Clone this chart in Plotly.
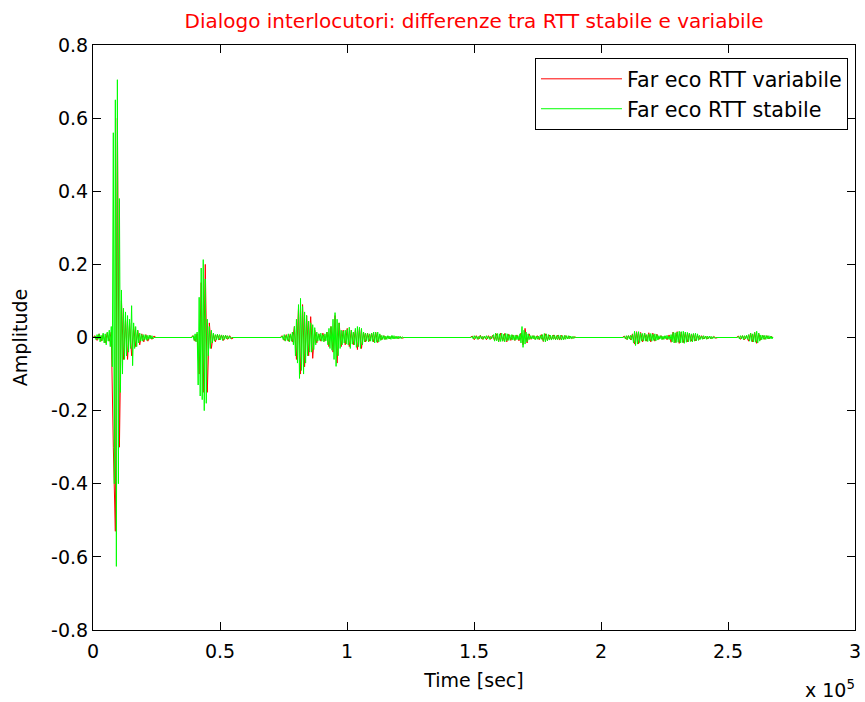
import plotly.graph_objects as go

# ---------------- data (sample index on x, amplitude on y) ----------------
SAMPLE_END = 266700
burst_starts = [800, 39400, 74500, 149300, 209200, 254100]
green_step = 400
red_step = 800

green_b1 = [0.004, -0.006, 0.008, -0.005, 0.01, -0.012, 0.006, -0.009, 0.012, -0.015,
            0.01, -0.02, 0.015, -0.01, 0.02, -0.025, 0.03, -0.08, 0.56, -0.4,
            0.65, -0.626, 0.705, -0.4, 0.38, -0.15, 0.13, -0.1, 0.08, -0.06,
            0.07, -0.05, 0.06, -0.04, 0.05, -0.03, 0.087, -0.077, 0.04, -0.03,
            0.03, -0.025, 0.02, -0.015, 0.012, -0.01, 0.008, -0.01, 0.008, -0.006,
            0.007, -0.008, 0.006, -0.005, 0.006, -0.004, 0.005, -0.004]
green_b2 = [0.005, -0.008, 0.01, -0.012, 0.015, -0.13, 0.11, -0.16, 0.19, -0.17,
            0.213, -0.2, 0.16, -0.18, 0.05, -0.05, 0.03, -0.03, 0.02, -0.015,
            0.012, -0.01, 0.008, -0.006, 0.009, -0.007, 0.008, -0.006, 0.007, -0.008,
            0.006, -0.005, 0.006, -0.004, 0.005, -0.004, 0.004, -0.003]
green_b3 = [0.004, -0.006, 0.008, -0.01, 0.006, -0.008, 0.01, -0.012, 0.009, -0.01,
            0.015, -0.02, 0.03, -0.05, 0.05, -0.07, 0.09, -0.112, 0.107, -0.09,
            0.085, -0.1, 0.07, -0.07, 0.06, -0.05, 0.045, -0.04, 0.04, -0.04,
            0.035, -0.033, 0.027, -0.02, 0.015, -0.01, 0.01, -0.008, 0.012, -0.01,
            0.008, -0.012, 0.01, -0.009, 0.015, -0.02, 0.025, -0.03, 0.03, -0.035,
            0.05, -0.06, 0.068, -0.079, 0.05, -0.05, 0.04, -0.03, 0.02, -0.02,
            0.018, -0.015, 0.02, -0.018, 0.022, -0.02, 0.028, -0.03, 0.02, -0.018,
            0.015, -0.02, 0.025, -0.027, 0.03, -0.025, 0.028, -0.03, 0.025, -0.02,
            0.015, -0.012, 0.012, -0.01, 0.011, -0.012, 0.01, -0.01, 0.012, -0.011,
            0.015, -0.015, 0.014, -0.013, 0.015, -0.012, 0.01, -0.008, 0.006, -0.005,
            0.005, -0.006, 0.004, -0.005, 0.005, -0.004, 0.004, -0.005, 0.006, -0.004,
            0.005, -0.004, 0.003, -0.004, 0.004, -0.003, 0.003, -0.003, 0.002]
green_b4 = [0.003, -0.004, 0.005, -0.003, 0.004, -0.005, 0.003, -0.004, 0.005, -0.004,
            0.003, -0.005, 0.004, -0.003, 0.005, -0.004, 0.004, -0.005, 0.003, -0.004,
            0.005, 0.008, -0.01, 0.012, -0.009, 0.011, -0.012, 0.01, -0.011, 0.012,
            -0.01, 0.009, -0.012, 0.011, -0.009, 0.01, -0.008, 0.007, -0.006, 0.008,
            -0.007, 0.006, -0.008, 0.007, -0.006, 0.005, -0.007, 0.01, -0.015, 0.03,
            -0.027, 0.02, -0.018, 0.015, -0.012, 0.01, -0.006, 0.005, -0.004, 0.005,
            -0.004, 0.005, -0.006, 0.004, -0.005, 0.004, -0.005, 0.006, -0.005, 0.008,
            -0.01, 0.011, -0.012, 0.01, -0.009, 0.008, -0.007, 0.006, -0.007, 0.006,
            -0.005, 0.007, -0.006, 0.005, -0.006, 0.007, -0.005, 0.006, -0.007, 0.005,
            -0.006, 0.006, -0.005, 0.005, -0.004, 0.005, -0.004, 0.004, -0.003, 0.003,
            -0.003, 0.002]
green_b5 = [0.003, -0.004, 0.005, -0.006, 0.005, -0.004, 0.006, -0.007, 0.008, -0.015,
            0.017, -0.022, 0.015, -0.018, 0.016, -0.014, 0.012, -0.01, 0.011, -0.009,
            0.012, -0.01, 0.008, -0.011, 0.01, -0.009, 0.011, -0.01, 0.009, -0.008,
            0.01, -0.009, 0.008, -0.007, 0.005, -0.004, 0.005, -0.006, 0.004, -0.005,
            0.005, -0.004, 0.006, -0.005, 0.004, -0.006, 0.008, -0.012, 0.014, -0.015,
            0.013, -0.014, 0.015, -0.013, 0.017, -0.015, 0.016, -0.014, 0.017, -0.016,
            0.015, -0.013, 0.014, -0.012, 0.012, -0.011, 0.01, -0.012, 0.011, -0.01,
            0.012, -0.009, 0.01, -0.008, 0.006, -0.005, 0.004, -0.005, 0.005, -0.004,
            0.004, -0.005, 0.004, -0.003, 0.004, -0.004, 0.003, -0.003, 0.002, -0.002]
green_b6 = [0.003, -0.004, 0.005, -0.004, 0.005, -0.006, 0.005, -0.004, 0.006, -0.005,
            0.008, -0.01, 0.012, -0.011, 0.01, -0.012, 0.014, -0.013, 0.017, -0.015,
            0.012, -0.01, 0.007, -0.006, 0.006, -0.005, 0.006, -0.005, 0.005, -0.004,
            0.005, -0.004, 0.004, -0.004]

red_b1 = [0.005, -0.008, 0.01, -0.01, 0.008, -0.015, 0.012, -0.01, 0.015, -0.3,
          -0.53, 0.6, -0.3, 0.1, -0.06, 0.05, -0.06, 0.04, -0.05, 0.03,
          -0.025, 0.02, -0.02, 0.01, -0.012, 0.008, -0.01, 0.006, -0.005, 0.004]
red_b2 = [0.005, -0.01, 0.01, -0.1, 0.15, -0.15, 0.2, -0.15, 0.04, -0.03,
          0.01, -0.012, 0.008, -0.006, 0.007, -0.008, 0.006, -0.005, 0.005, -0.004]
red_b3 = [0.005, -0.008, 0.008, -0.01, 0.01, -0.012, 0.03, -0.06, 0.08, -0.1,
          0.09, -0.08, 0.06, -0.05, 0.057, -0.057, 0.02, -0.015, 0.01, -0.01,
          0.012, -0.01, 0.015, -0.025, 0.03, -0.04, 0.06, -0.07, 0.04, -0.025,
          0.02, -0.02, 0.025, -0.025, 0.02, -0.02, 0.02, -0.033, 0.025, -0.03,
          0.015, -0.012, 0.012, -0.01, 0.012, -0.012, 0.014, -0.014, 0.008, -0.006,
          0.005, -0.005, 0.004, -0.004, 0.004, -0.003, 0.003, -0.003, 0.002, -0.002]
red_b4 = [0.004, -0.006, 0.005, -0.005, 0.006, -0.005, 0.004, -0.006, 0.005, -0.005,
          0.006, -0.008, 0.01, -0.011, 0.012, -0.01, 0.011, -0.012, 0.009, -0.008,
          0.007, -0.008, 0.007, -0.009, 0.012, -0.02, 0.025, -0.015, 0.01, -0.005,
          0.005, -0.005, 0.005, -0.006, 0.008, -0.011, 0.01, -0.008, 0.007, -0.006,
          0.007, -0.006, 0.006, -0.007, 0.006, -0.005, 0.005, -0.004, 0.004, -0.003,
          0.002]
red_b5 = [0.004, -0.005, 0.005, -0.006, 0.01, -0.018, 0.016, -0.017, 0.014, -0.012,
          0.011, -0.01, 0.013, -0.012, 0.012, -0.01, 0.009, -0.005, 0.005, -0.005,
          0.004, -0.006, 0.007, -0.013, 0.015, -0.014, 0.016, -0.016, 0.015, -0.014,
          0.013, -0.012, 0.011, -0.01, 0.01, -0.009, 0.006, -0.005, 0.005, -0.004,
          0.004, -0.004, 0.003, -0.003, 0.003, -0.002]
red_b6 = [0.004, -0.005, 0.005, -0.006, 0.005, -0.01, 0.012, -0.012, 0.014, -0.016,
          0.011, -0.007, 0.006, -0.005, 0.005, -0.004, 0.003]

green_bursts = [green_b1, green_b2, green_b3, green_b4, green_b5, green_b6]
red_bursts = [red_b1, red_b2, red_b3, red_b4, red_b5, red_b6]

x_tick_vals = [0, 50000, 100000, 150000, 200000, 250000, 300000]
x_tick_text = ["0", "0.5", "1", "1.5", "2", "2.5", "3"]
y_tick_vals = [-0.8, -0.6, -0.4, -0.2, 0, 0.2, 0.4, 0.6, 0.8]
y_tick_text = ["-0.8", "-0.6", "-0.4", "-0.2", "0", "0.2", "0.4", "0.6", "0.8"]


def build(starts, step, bursts, end):
    xs, ys = [0], [0.0]
    for s, vals in zip(starts, bursts):
        xs.append(s - step); ys.append(0.0)
        for i, v in enumerate(vals):
            xs.append(s + i * step); ys.append(v)
        xs.append(s + len(vals) * step); ys.append(0.0)
    xs.append(end); ys.append(0.0)
    return xs, ys


rx, ry = build(burst_starts, red_step, red_bursts, SAMPLE_END)
gx, gy = build(burst_starts, green_step, green_bursts, SAMPLE_END)

FONT = "DejaVu Sans, Liberation Sans, Arial, sans-serif"
FS = 19

fig = go.Figure()
fig.add_trace(go.Scatter(x=rx, y=ry, mode="lines", name="Far eco RTT variabile",
                         line=dict(color="#ff0000", width=1)))
fig.add_trace(go.Scatter(x=gx, y=gy, mode="lines", name="Far eco RTT stabile",
                         line=dict(color="#00ff00", width=1)))

axis_common = dict(showline=True, linecolor="black", linewidth=1, mirror="ticks",
                   ticks="inside", ticklen=8, tickcolor="black", showgrid=False,
                   zeroline=False, automargin=False, ticklabeloverflow="allow",
                   tickfont=dict(family=FONT, size=FS, color="black"))

fig.update_layout(
    width=865, height=702,
    margin=dict(l=93, r=10, t=45, b=72, autoexpand=False),
    paper_bgcolor="white", plot_bgcolor="white",
    font=dict(family=FONT, size=FS, color="black"),
    title=dict(text="Dialogo interlocutori: differenze tra RTT stabile e variabile",
               font=dict(family=FONT, size=20, color="#ff0000"),
               x=0.5, xref="paper", xanchor="center",
               y=1 - 21 / 702, yref="container", yanchor="middle"),
    xaxis=dict(range=[0, 300000], tickvals=x_tick_vals, ticktext=x_tick_text,
               ticklabelstandoff=4,
               title=dict(text="Time [sec]", font=dict(family=FONT, size=FS), standoff=12),
               **axis_common),
    yaxis=dict(range=[-0.8, 0.8], tickvals=y_tick_vals, ticktext=y_tick_text,
               title=dict(text="Amplitude", font=dict(family=FONT, size=FS), standoff=18),
               **axis_common),
    legend=dict(x=0.9908, y=0.978, xanchor="right", yanchor="top",
                bgcolor="white", bordercolor="black", borderwidth=1,
                font=dict(family=FONT, size=20.7, color="black"),
                itemwidth=81, tracegroupgap=0),
    showlegend=True,
)

fig.add_annotation(text="x 10<sup>5</sup>", xref="paper", yref="paper",
                   x=1.003, y=-0.1, xanchor="right", yanchor="middle",
                   showarrow=False, font=dict(family=FONT, size=FS, color="black"))

fig.write_html("out.html")
